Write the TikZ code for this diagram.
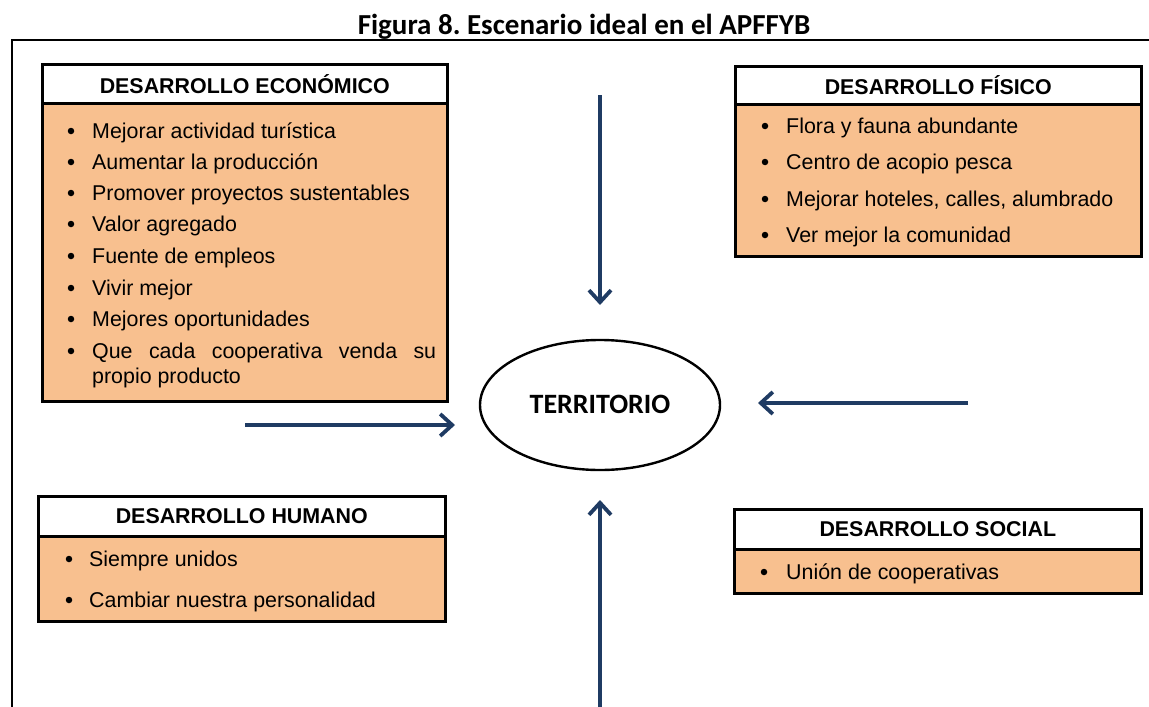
\documentclass[tikz,border=0pt]{standalone}
\usepackage{fontspec}
\setmainfont{Liberation Sans}
\newfontfamily\titlefont{Carlito}
\usetikzlibrary{arrows.meta,shapes.geometric}
\definecolor{peach}{HTML}{F8C08F}
\definecolor{navy}{HTML}{1F3B63}
\frenchspacing
\tikzset{
  hdr/.style={draw=black,line width=2.6pt,fill=white,font=\fontsize{21.4}{24}\selectfont\bfseries,inner sep=0pt},
  bodybox/.style={draw=black,line width=2.6pt,fill=peach,inner sep=0pt},
  item/.style={anchor=west,font=\fontsize{21.4}{25}\selectfont,inner sep=0pt,yshift=-2pt},
  bul/.style={circle,fill=black,inner sep=0pt,minimum size=6.5pt},
  conn/.style={draw=navy,line width=4pt,-{Straight Barb[length=12pt,width=22pt,line width=3.8pt]}},
}
\begin{document}
\begin{tikzpicture}[x=1pt,y=-1pt]
\useasboundingbox (0,0) rectangle (1149,707);
\fill[white] (0,0) rectangle (1149,707);
% title
\node[font=\titlefont\bfseries\fontsize{29}{32}\selectfont,inner sep=0pt] (title) at (584,27) {Figura 8. Escenario ideal en el APFFYB};
% outer frame
\draw[line width=2pt] (12,707) -- (12,40) -- (1152,40);

% ECONOMICO
\node[bodybox,minimum width=405,minimum height=298,anchor=north west] (econB) at (41,102) {};
\node[hdr,minimum width=405,minimum height=39,anchor=north west] (econH) at (41,63) {DESARROLLO ECONÓMICO};
\foreach \y/\t [count=\i] in {131/Mejorar actividad turística,162/Aumentar la producción,193/Promover proyectos sustentables,224/Valor agregado,256/Fuente de empleos,288/Vivir mejor,319/Mejores oportunidades}{
  \node[bul] (eb\i) at (71,\y) {};
  \node[item] (et\i) at (92,\y) {\t};
}
\node[bul] (eb8) at (71,351) {};
\node[item,text width=344pt,align=justify] (et8) at (92,351) {Que\hfill cada\hfill cooperativa\hfill venda\hfill su};
\node[item] (et9) at (92,376) {propio producto};

% FISICO
\node[bodybox,minimum width=406,minimum height=152,anchor=north west] (fisB) at (734,103) {};
\node[hdr,minimum width=406,minimum height=38,anchor=north west] (fisH) at (734,65) {DESARROLLO FÍSICO};
\foreach \y/\t [count=\i] in {126/Flora y fauna abundante,162/Centro de acopio pesca,199/{Mejorar hoteles, calles, alumbrado},235/Ver mejor la comunidad}{
  \node[bul] (fb\i) at (765,\y) {};
  \node[item] (ft\i) at (786,\y) {\t};
}

% HUMANO
\node[bodybox,minimum width=407,minimum height=85,anchor=north west] (humB) at (37,535) {};
\node[hdr,minimum width=407,minimum height=40,anchor=north west] (humH) at (37,495) {DESARROLLO HUMANO};
\foreach \y/\t [count=\i] in {559/Siempre unidos,600/Cambiar nuestra personalidad}{
  \node[bul] (hb\i) at (69,\y) {};
  \node[item] (ht\i) at (89,\y) {\t};
}

% SOCIAL
\node[bodybox,minimum width=407,minimum height=44,anchor=north west] (socB) at (733,548) {};
\node[hdr,minimum width=407,minimum height=40,anchor=north west] (socH) at (733,508) {DESARROLLO SOCIAL};
\node[bul] (sb1) at (764,572) {};
\node[item] (st1) at (786,572) {Unión de cooperativas};

% TERRITORIO
\node[ellipse,draw=black,line width=2.4pt,minimum width=240,minimum height=130] (terr) at (600,405) {};
\node[font=\titlefont\bfseries\fontsize{28}{31}\selectfont,inner sep=0pt] (terrT) at (600,404) {TERRITORIO};

% arrows
\coordinate (topS) at (600,95);
\coordinate (topE) at (600,305);
\coordinate (leftS) at (245,425);
\coordinate (leftE) at (455,425);
\coordinate (rightS) at (968,403);
\coordinate (rightE) at (758,403);
\coordinate (botS) at (600,710);
\coordinate (botE) at (600,500);
\draw[conn] (topS) -- (topE);
\draw[conn] (leftS) -- (leftE);
\draw[conn] (rightS) -- (rightE);
\draw[conn] (botS) -- (botE);
\end{tikzpicture}
\end{document}
